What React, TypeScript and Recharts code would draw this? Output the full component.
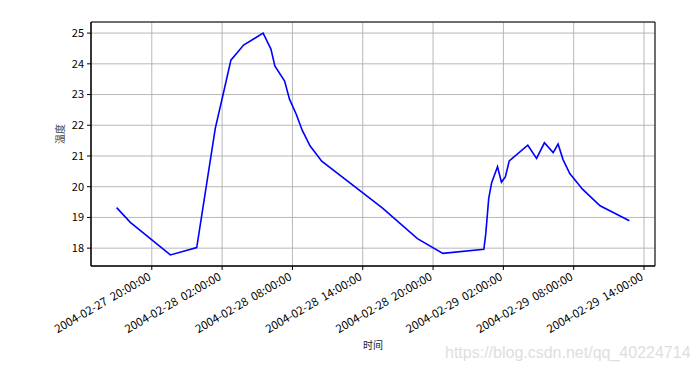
import React from 'react';
import { LineChart, Line, XAxis, YAxis, CartesianGrid, ReferenceArea } from 'recharts';

// 采样时间
const times = [
  '2004-02-27 17:00', '2004-02-27 18:10', '2004-02-27 21:35', '2004-02-27 23:50',
  '2004-02-28 01:25', '2004-02-28 02:10', '2004-02-28 02:45', '2004-02-28 03:50',
  '2004-02-28 05:30', '2004-02-28 06:10', '2004-02-28 06:30', '2004-02-28 07:20',
  '2004-02-28 07:45', '2004-02-28 08:20', '2004-02-28 08:50', '2004-02-28 09:30',
  '2004-02-28 10:30', '2004-02-28 15:40', '2004-02-28 18:40', '2004-02-28 20:50',
  '2004-02-29 00:20', '2004-02-29 00:30', '2004-02-29 00:45', '2004-02-29 01:00',
  '2004-02-29 01:30', '2004-02-29 01:50', '2004-02-29 02:10', '2004-02-29 02:30',
  '2004-02-29 04:05', '2004-02-29 04:50', '2004-02-29 05:30', '2004-02-29 06:15',
  '2004-02-29 06:40', '2004-02-29 07:05', '2004-02-29 07:40', '2004-02-29 08:45',
  '2004-02-29 10:15', '2004-02-29 12:45',
];

// 温度
const temps = [
  19.32, 18.84, 17.78, 18.02,
  21.9, 23.14, 24.12, 24.61,
  25.0, 24.48, 23.93, 23.44,
  22.85, 22.35, 21.84, 21.33,
  20.83, 19.31, 18.31, 17.83,
  17.96, 18.48, 19.62, 20.13,
  20.65, 20.15, 20.32, 20.84,
  21.35, 20.92, 21.43, 21.11,
  21.39, 20.89, 20.43, 19.92,
  19.38, 18.89,
];

const xTickLabels = [
  '2004-02-27 20:00:00', '2004-02-28 02:00:00', '2004-02-28 08:00:00', '2004-02-28 14:00:00',
  '2004-02-28 20:00:00', '2004-02-29 02:00:00', '2004-02-29 08:00:00', '2004-02-29 14:00:00',
];
const yTicks = [18, 19, 20, 21, 22, 23, 24, 25];

const toMs = (s: string) => new Date(s.replace(' ', 'T') + (s.length === 16 ? ':00Z' : 'Z')).getTime();

const data = times.map((t, i) => ({ t: toMs(t), temp: temps[i] }));
const xTicks = xTickLabels.map(toMs);
const labelByMs: Record<number, string> = {};
xTicks.forEach((ms, i) => (labelByMs[ms] = xTickLabels[i]));

// matplotlib-like 5% margins
const pad = (lo: number, hi: number): [number, number] => {
  const m = (hi - lo) * 0.05;
  return [lo - m, hi + m];
};
const xDomain = pad(Math.min(...data.map((d) => d.t)), Math.max(...data.map((d) => d.t)));
const yDomain = pad(Math.min(...temps), Math.max(...temps));

const FONT = '"Noto Sans CJK SC", "DejaVu Sans", sans-serif';

const XTick = (props: any) => {
  const { x, y, payload } = props;
  const label = (labelByMs[payload.value] || '').replace(' ', '  ');
  return (
    <g transform={`translate(${x},${y + 7})`}>
      <text
        x={0}
        y={0}
        textAnchor="end"
        transform="rotate(-30)"
        fontSize={11.5}
        fontFamily={FONT}
        fill="#000"
        style={{ whiteSpace: 'pre' }}
      >
        {label}
      </text>
    </g>
  );
};

export default function App() {
  return (
    <div style={{ position: 'absolute', left: 0, top: 0, width: 698, height: 374, background: '#fff', fontFamily: FONT }}>
      <LineChart width={698} height={374} data={data} margin={{ top: 22, right: 43, bottom: 0, left: 0 }}>
        <CartesianGrid stroke="#b0b0b0" strokeWidth={0.9} />
        <XAxis
          dataKey="t"
          type="number"
          scale="linear"
          domain={xDomain}
          allowDataOverflow
          ticks={xTicks}
          tick={<XTick />}
          tickSize={4}
          tickMargin={2}
          axisLine={{ stroke: '#000' }}
          tickLine={{ stroke: '#000' }}
          interval={0}
          height={108}
          label={{ value: '时间', position: 'insideTop', offset: 76, fontSize: 10, fill: '#222', fontFamily: FONT }}
        />
        <YAxis
          type="number"
          domain={yDomain}
          allowDataOverflow
          ticks={yTicks}
          width={91}
          tickSize={4}
          tickMargin={3}
          axisLine={{ stroke: '#000' }}
          tickLine={{ stroke: '#000' }}
          tick={{ fontSize: 11, fill: '#000', fontFamily: FONT }}
          label={{ value: '温度', angle: -90, position: 'insideLeft', offset: 60, fontSize: 10, fill: '#444', fontFamily: FONT }}
        />
        <ReferenceArea
          x1={xDomain[0]}
          x2={xDomain[1]}
          y1={yDomain[0]}
          y2={yDomain[1]}
          fill="none"
          stroke="#000"
          strokeWidth={1}
          ifOverflow="visible"
        />
        <Line type="linear" dataKey="temp" stroke="#0000ff" strokeWidth={1.6} dot={false} isAnimationActive={false} />
      </LineChart>
      <div
        style={{
          position: 'absolute',
          left: 445,
          top: 344,
          fontFamily: '"Liberation Sans", Arial, sans-serif',
          fontSize: 16,
          color: '#dedede',
          whiteSpace: 'nowrap',
        }}
      >
        https://blog.csdn.net/qq_40224714
      </div>
    </div>
  );
}
